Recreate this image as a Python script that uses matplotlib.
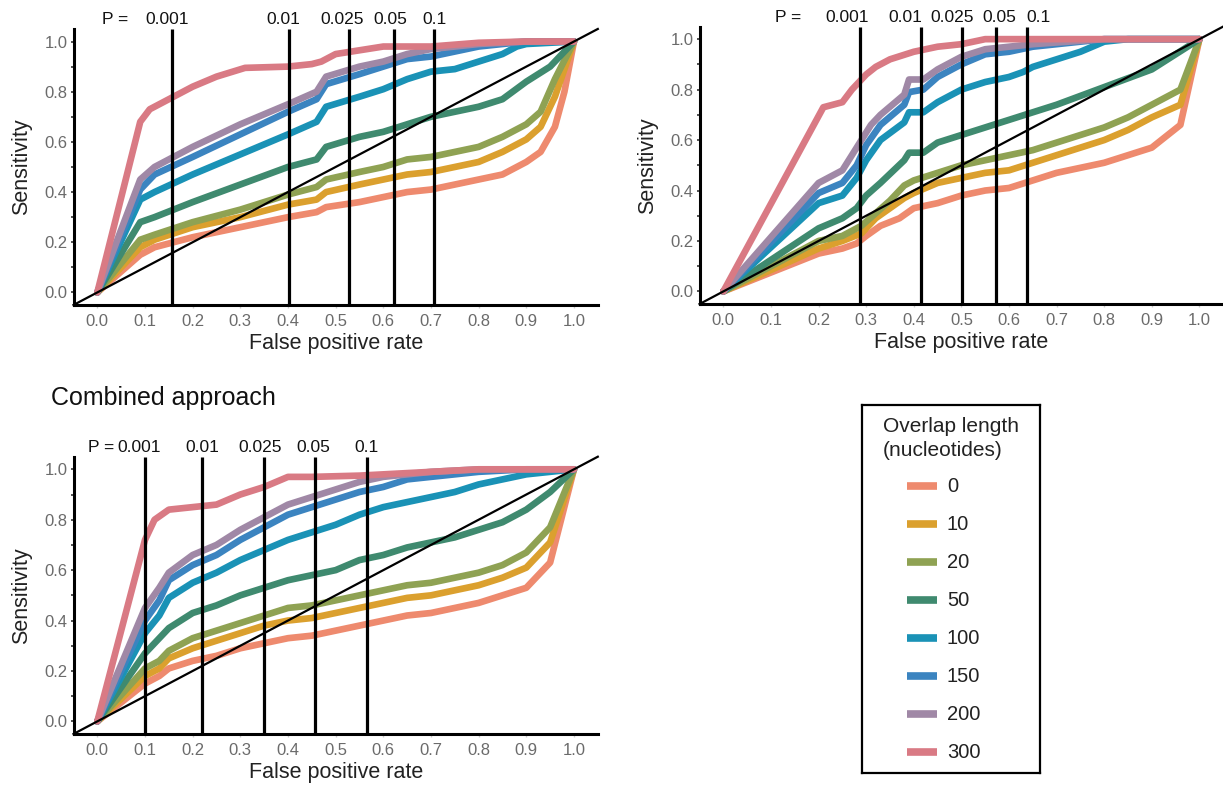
import matplotlib
matplotlib.use("Agg")
import matplotlib.pyplot as plt
from matplotlib.ticker import MultipleLocator

plt.rcParams["font.family"] = ["Liberation Sans", "DejaVu Sans"]

overlaps = ["0", "10", "20", "50", "100", "150", "200", "300"]
colors = ["#EE8A6E", "#DBA02E", "#8FA253", "#3F8A6F", "#1A92B6", "#3B84C0", "#A088A6", "#D97A84"]

p_labels = ["0.001", "0.01", "0.025", "0.05", "0.1"]

# threshold positions (false positive rate) for each panel
thr_top_left = [0.156, 0.402, 0.527, 0.622, 0.706]
thr_top_right = [0.287, 0.416, 0.501, 0.572, 0.638]
thr_bottom = [0.100, 0.219, 0.349, 0.456, 0.565]

# ROC curves, (fpr, sensitivity) pairs
top_left = {
    "0": [(0, 0), (0.09, 0.15), (0.12, 0.18), (0.2, 0.22), (0.3, 0.26), (0.4, 0.30), (0.46, 0.32), (0.48, 0.34),
          (0.55, 0.36), (0.6, 0.38), (0.65, 0.40), (0.7, 0.41), (0.75, 0.43), (0.8, 0.45), (0.85, 0.47),
          (0.9, 0.52), (0.93, 0.56), (0.96, 0.66), (0.98, 0.80), (1, 1)],
    "10": [(0, 0), (0.09, 0.18), (0.12, 0.21), (0.2, 0.26), (0.3, 0.30), (0.4, 0.35), (0.46, 0.37), (0.48, 0.40),
           (0.55, 0.43), (0.6, 0.45), (0.65, 0.47), (0.7, 0.48), (0.75, 0.50), (0.8, 0.52), (0.85, 0.56),
           (0.9, 0.61), (0.93, 0.66), (0.96, 0.78), (1, 1)],
    "20": [(0, 0), (0.09, 0.21), (0.12, 0.23), (0.2, 0.28), (0.3, 0.33), (0.4, 0.39), (0.46, 0.42), (0.48, 0.45),
           (0.55, 0.48), (0.6, 0.50), (0.65, 0.53), (0.7, 0.54), (0.75, 0.56), (0.8, 0.58), (0.85, 0.62),
           (0.9, 0.67), (0.93, 0.72), (0.96, 0.85), (1, 1)],
    "50": [(0, 0), (0.09, 0.28), (0.12, 0.30), (0.2, 0.36), (0.3, 0.43), (0.4, 0.50), (0.46, 0.53), (0.48, 0.58),
           (0.55, 0.62), (0.6, 0.64), (0.65, 0.67), (0.7, 0.70), (0.75, 0.72), (0.8, 0.74), (0.85, 0.77),
           (0.9, 0.84), (0.95, 0.90), (1, 1)],
    "100": [(0, 0), (0.09, 0.37), (0.12, 0.40), (0.2, 0.47), (0.3, 0.55), (0.35, 0.59), (0.4, 0.63), (0.46, 0.68),
            (0.48, 0.74), (0.55, 0.78), (0.6, 0.81), (0.65, 0.85), (0.7, 0.88), (0.75, 0.89), (0.8, 0.92),
            (0.85, 0.95), (0.88, 0.98), (0.9, 0.99), (1, 1)],
    "150": [(0, 0), (0.09, 0.41), (0.12, 0.47), (0.2, 0.54), (0.3, 0.63), (0.4, 0.72), (0.46, 0.77), (0.48, 0.83),
            (0.55, 0.87), (0.6, 0.90), (0.65, 0.93), (0.7, 0.94), (0.8, 0.98), (0.9, 1.0), (1, 1)],
    "200": [(0, 0), (0.09, 0.45), (0.12, 0.50), (0.2, 0.58), (0.3, 0.67), (0.35, 0.71), (0.4, 0.75), (0.46, 0.80),
            (0.48, 0.86), (0.55, 0.90), (0.6, 0.92), (0.65, 0.95), (0.7, 0.97), (0.8, 0.99), (0.9, 1.0), (1, 1)],
    "300": [(0, 0), (0.09, 0.68), (0.11, 0.73), (0.15, 0.77), (0.2, 0.82), (0.25, 0.86), (0.31, 0.895),
            (0.4, 0.90), (0.45, 0.91), (0.47, 0.92), (0.5, 0.95), (0.6, 0.98), (0.7, 0.98), (0.8, 0.995),
            (0.9, 1.0), (1, 1)],
}

top_right = {
    "0": [(0, 0), (0.2, 0.15), (0.25, 0.17), (0.28, 0.19), (0.3, 0.22), (0.33, 0.26), (0.37, 0.29), (0.4, 0.33),
          (0.45, 0.35), (0.5, 0.38), (0.55, 0.40), (0.6, 0.41), (0.65, 0.44), (0.7, 0.47), (0.75, 0.49),
          (0.8, 0.51), (0.85, 0.54), (0.9, 0.57), (0.96, 0.66), (1, 1)],
    "10": [(0, 0), (0.2, 0.17), (0.25, 0.20), (0.29, 0.23), (0.32, 0.29), (0.35, 0.33), (0.38, 0.37), (0.4, 0.39),
           (0.45, 0.43), (0.5, 0.45), (0.55, 0.47), (0.6, 0.48), (0.65, 0.51), (0.7, 0.54), (0.75, 0.57),
           (0.8, 0.60), (0.85, 0.64), (0.9, 0.69), (0.96, 0.74), (1, 1)],
    "20": [(0, 0), (0.2, 0.20), (0.25, 0.22), (0.29, 0.26), (0.32, 0.31), (0.35, 0.36), (0.38, 0.42), (0.4, 0.44),
           (0.45, 0.47), (0.5, 0.50), (0.55, 0.52), (0.6, 0.54), (0.65, 0.56), (0.7, 0.59), (0.75, 0.62),
           (0.8, 0.65), (0.85, 0.69), (0.9, 0.74), (0.96, 0.80), (1, 1)],
    "50": [(0, 0), (0.2, 0.25), (0.25, 0.29), (0.28, 0.33), (0.3, 0.38), (0.33, 0.43), (0.38, 0.52), (0.39, 0.55),
           (0.42, 0.55), (0.45, 0.59), (0.5, 0.62), (0.55, 0.65), (0.6, 0.68), (0.65, 0.71), (0.7, 0.74),
           (0.8, 0.81), (0.9, 0.88), (1, 1)],
    "100": [(0, 0), (0.2, 0.35), (0.25, 0.38), (0.28, 0.45), (0.3, 0.52), (0.33, 0.60), (0.38, 0.67), (0.39, 0.71),
            (0.42, 0.71), (0.45, 0.75), (0.5, 0.80), (0.55, 0.83), (0.6, 0.85), (0.63, 0.87), (0.65, 0.89),
            (0.7, 0.92), (0.75, 0.95), (0.8, 0.99), (0.85, 1.0), (1, 1)],
    "150": [(0, 0), (0.2, 0.39), (0.25, 0.43), (0.28, 0.50), (0.3, 0.58), (0.33, 0.66), (0.38, 0.74), (0.39, 0.79),
            (0.42, 0.80), (0.45, 0.85), (0.5, 0.90), (0.55, 0.94), (0.6, 0.95), (0.65, 0.97), (0.75, 0.99),
            (0.8, 1.0), (1, 1)],
    "200": [(0, 0), (0.2, 0.43), (0.25, 0.48), (0.29, 0.60), (0.31, 0.66), (0.33, 0.70), (0.38, 0.78), (0.39, 0.84),
            (0.42, 0.84), (0.45, 0.88), (0.5, 0.93), (0.55, 0.96), (0.65, 0.98), (0.8, 1.0), (1, 1)],
    "300": [(0, 0), (0.21, 0.73), (0.25, 0.75), (0.27, 0.80), (0.3, 0.86), (0.32, 0.89), (0.35, 0.92), (0.4, 0.95),
            (0.45, 0.97), (0.5, 0.98), (0.55, 1.0), (1, 1)],
}

bottom = {
    "0": [(0, 0), (0.1, 0.15), (0.13, 0.18), (0.15, 0.21), (0.2, 0.24), (0.25, 0.26), (0.3, 0.29), (0.35, 0.31),
          (0.4, 0.33), (0.45, 0.34), (0.5, 0.36), (0.55, 0.38), (0.6, 0.40), (0.65, 0.42), (0.7, 0.43),
          (0.75, 0.45), (0.8, 0.47), (0.85, 0.50), (0.9, 0.53), (0.95, 0.63), (1, 1)],
    "10": [(0, 0), (0.1, 0.18), (0.13, 0.21), (0.15, 0.25), (0.2, 0.29), (0.25, 0.32), (0.3, 0.35), (0.35, 0.38),
           (0.4, 0.40), (0.45, 0.41), (0.5, 0.43), (0.55, 0.45), (0.6, 0.47), (0.65, 0.49), (0.7, 0.50),
           (0.75, 0.52), (0.8, 0.54), (0.85, 0.57), (0.9, 0.61), (0.95, 0.71), (1, 1)],
    "20": [(0, 0), (0.1, 0.21), (0.13, 0.24), (0.15, 0.28), (0.2, 0.33), (0.25, 0.36), (0.3, 0.39), (0.35, 0.42),
           (0.4, 0.45), (0.45, 0.46), (0.5, 0.48), (0.55, 0.50), (0.6, 0.52), (0.65, 0.54), (0.7, 0.55),
           (0.75, 0.57), (0.8, 0.59), (0.85, 0.62), (0.9, 0.67), (0.95, 0.77), (1, 1)],
    "50": [(0, 0), (0.1, 0.27), (0.13, 0.33), (0.15, 0.37), (0.2, 0.43), (0.25, 0.46), (0.3, 0.50), (0.35, 0.53),
           (0.4, 0.56), (0.45, 0.58), (0.5, 0.60), (0.55, 0.64), (0.6, 0.66), (0.65, 0.69), (0.7, 0.71),
           (0.75, 0.73), (0.8, 0.76), (0.85, 0.79), (0.9, 0.84), (0.95, 0.91), (1, 1)],
    "100": [(0, 0), (0.1, 0.35), (0.13, 0.42), (0.15, 0.49), (0.2, 0.55), (0.25, 0.59), (0.3, 0.64), (0.35, 0.68),
            (0.4, 0.72), (0.45, 0.75), (0.5, 0.78), (0.55, 0.82), (0.6, 0.85), (0.65, 0.87), (0.7, 0.89),
            (0.75, 0.91), (0.8, 0.94), (0.85, 0.96), (0.9, 0.98), (0.95, 0.99), (1, 1)],
    "150": [(0, 0), (0.1, 0.40), (0.13, 0.48), (0.15, 0.56), (0.2, 0.62), (0.25, 0.66), (0.3, 0.72), (0.35, 0.77),
            (0.4, 0.82), (0.45, 0.85), (0.5, 0.88), (0.55, 0.91), (0.6, 0.93), (0.65, 0.96), (0.75, 0.98),
            (0.8, 0.99), (0.9, 1.0), (1, 1)],
    "200": [(0, 0), (0.1, 0.45), (0.13, 0.53), (0.15, 0.59), (0.2, 0.66), (0.25, 0.70), (0.3, 0.76), (0.35, 0.81),
            (0.4, 0.86), (0.45, 0.89), (0.5, 0.92), (0.55, 0.95), (0.6, 0.97), (0.7, 0.99), (0.8, 1.0), (1, 1)],
    "300": [(0, 0), (0.1, 0.72), (0.12, 0.80), (0.15, 0.84), (0.2, 0.85), (0.25, 0.86), (0.3, 0.90), (0.35, 0.93),
            (0.4, 0.97), (0.45, 0.97), (0.55, 0.975), (0.7, 0.99), (0.8, 1.0), (1, 1)],
}


def draw_panel(ax, curves, thresholds, label_x, p_x):
    for name, col in zip(overlaps, colors):
        xs = [p[0] for p in curves[name]]
        ys = [p[1] for p in curves[name]]
        ax.plot(xs, ys, color=col, lw=4.8, solid_joinstyle="round", solid_capstyle="round", zorder=2)
    ax.plot([-0.05, 1.05], [-0.05, 1.05], color="black", lw=1.6, zorder=3, clip_on=False)
    ax.vlines(thresholds, -0.05, 1.05, color="black", lw=2.3, zorder=4)
    for lx, lab in zip(label_x, p_labels):
        ax.text(lx, 1.058, lab, ha="center", va="bottom", fontsize=12.5, color="#111")
    ax.text(p_x, 1.058, "P =", ha="center", va="bottom", fontsize=12.5, color="#111")

    ax.set_xlim(-0.05, 1.05)
    ax.set_ylim(-0.05, 1.05)
    ax.xaxis.set_major_locator(MultipleLocator(0.1))
    ax.yaxis.set_major_locator(MultipleLocator(0.2))
    ax.yaxis.set_minor_locator(MultipleLocator(0.1))
    ax.xaxis.set_major_formatter(plt.FuncFormatter(lambda v, _: f"{v:.1f}"))
    ax.yaxis.set_major_formatter(plt.FuncFormatter(lambda v, _: f"{v:.1f}"))
    ax.tick_params(axis="both", labelsize=12, labelcolor="#6b6b6b")
    ax.tick_params(axis="x", length=2.5, width=1, color="#cccccc", pad=4)
    ax.tick_params(axis="y", which="major", length=2.5, width=1.3, color="#444", pad=2)
    ax.tick_params(axis="y", which="minor", length=2, width=1.3, color="#444")
    for side in ["top", "right"]:
        ax.spines[side].set_visible(False)
    for side in ["left", "bottom"]:
        ax.spines[side].set_linewidth(2.2)
        ax.spines[side].set_color("black")
    ax.set_xlabel("False positive rate", fontsize=15.5, color="#222", labelpad=3)
    ax.set_ylabel("Sensitivity", fontsize=15.5, color="#222", labelpad=9)


fig = plt.figure(figsize=(12.23, 7.85), dpi=100)

ax1 = fig.add_axes([0.0601, 0.6115, 0.4287, 0.3516])
ax2 = fig.add_axes([0.5720, 0.6127, 0.4282, 0.3535])
ax3 = fig.add_axes([0.0601, 0.0650, 0.4287, 0.3532])

draw_panel(ax1, top_left, thr_top_left, [0.147, 0.39, 0.514, 0.614, 0.708], 0.037)
draw_panel(ax2, top_right, thr_top_right, [0.26, 0.383, 0.48, 0.58, 0.662], 0.135)
draw_panel(ax3, bottom, thr_bottom, [0.088, 0.22, 0.341, 0.454, 0.564], 0.007)

fig.text(0.042, 0.493, "Combined approach", fontsize=18, color="#111", va="center", ha="left")

# legend box, drawn in its own axes
lax = fig.add_axes([862 / 1223, 1 - 773 / 785, 178 / 1223, 368 / 785])
lax.set_xlim(0, 178)
lax.set_ylim(368, 0)
lax.set_xticks([])
lax.set_yticks([])
for s in lax.spines.values():
    s.set_linewidth(1.6)
    s.set_color("black")
lax.text(21, 22, "Overlap length", fontsize=15, va="center", ha="left", color="#222")
lax.text(21, 46, "(nucleotides)", fontsize=15, va="center", ha="left", color="#222")
for i, (name, col) in enumerate(zip(overlaps, colors)):
    yy = 81 + 38 * i
    lax.plot([45, 75], [yy, yy], color=col, lw=5.5, solid_capstyle="butt")
    lax.text(85, yy, name, fontsize=14.5, va="center", ha="left", color="#222")

fig.savefig("out.png", dpi=100)
